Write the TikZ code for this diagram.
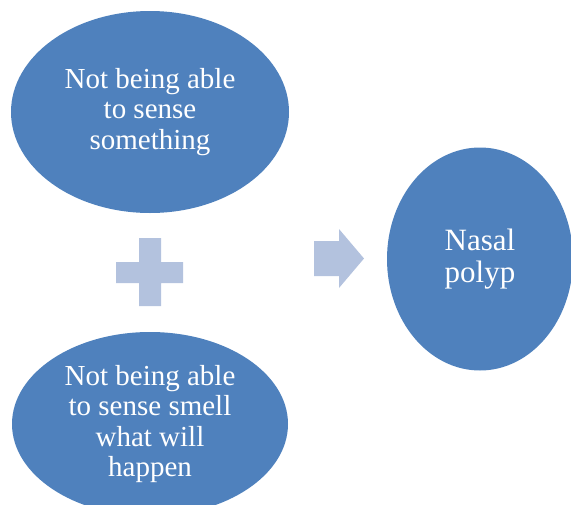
\documentclass[tikz,border=0pt]{standalone}
\usepackage{fontspec}
\setmainfont{Liberation Serif}
\usetikzlibrary{shapes.geometric}
\definecolor{blobblue}{HTML}{4F81BD}
\definecolor{signblue}{HTML}{B3C2DE}
\tikzset{blob/.style={ellipse,fill=blobblue,text=white,align=center,inner sep=0pt,
    font=\fontsize{29}{30.5}\selectfont}}

\begin{document}
\begin{tikzpicture}[x=1pt,y=-1pt]
            \useasboundingbox (0,0) rectangle (571,504);
            \node[blob,minimum width=278pt,minimum height=202pt] (sense) at (150,112)
                {Not being able\\to sense\\something};
            \node[blob,minimum width=276pt,minimum height=184pt] (smell) at (150,424)
                {Not being able\\to sense smell\\what will\\happen};
            \node[blob,minimum width=186pt,minimum height=223pt,
                font=\fontsize{31}{32}\selectfont] (polyp) at (480,259)
                {Nasal\\polyp};

            % plus sign
            \coordinate (plus) at (150,272);
            \fill[signblue] (plus) ++(-11,-34) -- ++(22,0) -- ++(0,24) -- ++(22,0) -- ++(0,21)
                -- ++(-22,0) -- ++(0,23) -- ++(-22,0) -- ++(0,-23) -- ++(-23,0) -- ++(0,-21)
                -- ++(23,0) -- cycle;

            % block arrow
            \coordinate (tip) at (364,258.5);
            \fill[signblue] (tip) -- ++(-25,29.5) -- ++(0,-12) -- ++(-25,0) -- ++(0,-35)
                -- ++(25,0) -- ++(0,-12) -- cycle;
\end{tikzpicture}
\end{document}
